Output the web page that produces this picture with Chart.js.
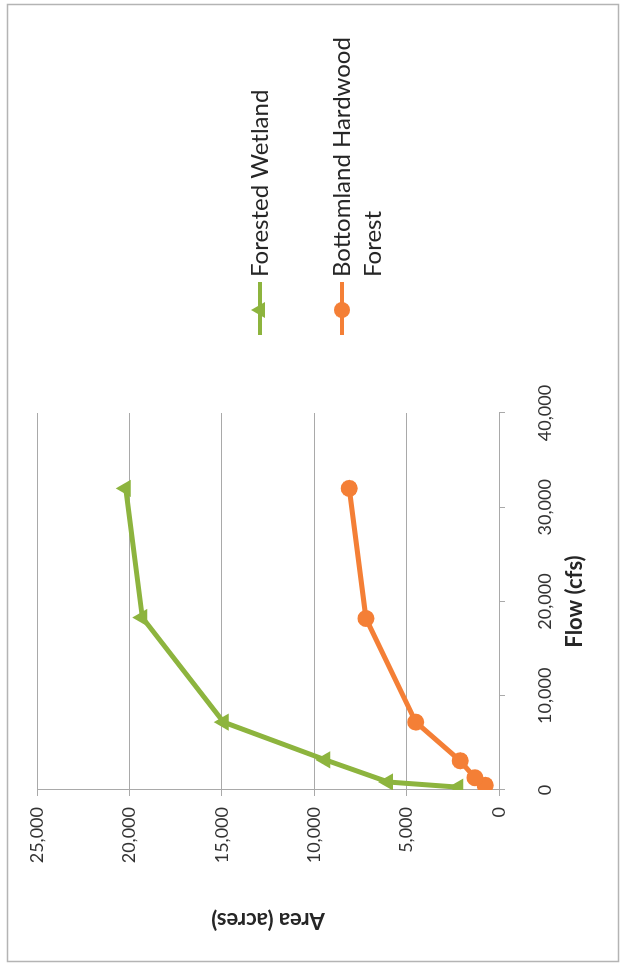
<!DOCTYPE html>
<html>
<head>
<meta charset="utf-8">
<script src="https://cdn.jsdelivr.net/npm/chart.js@4/dist/chart.umd.min.js"></script>
<style>
  html, body { margin: 0; padding: 0; background: #fff; overflow: hidden; }
  /* the chart is drawn landscape and turned a quarter turn to the left */
  #wrap {
    position: absolute;
    left: 0;
    top: 966px;
    width: 966px;
    height: 621px;
    transform-origin: 0 0;
    transform: rotate(-90deg);
  }
</style>
</head>
<body>
<div id="wrap"><canvas id="flow-area" width="966" height="621"></canvas></div>
<script>
  'use strict';

  const seriesNames = ['Forested Wetland', 'Bottomland Hardwood Forest'];
  const legendLines = [['Forested Wetland'], ['Bottomland Hardwood', 'Forest']];

  const wetlandFlow = [300, 850, 3200, 7200, 18300, 32000];
  const wetlandArea = [2200, 6000, 9400, 14900, 19300, 20200];

  const hardwoodFlow = [500, 1300, 3100, 7200, 18200, 32000];
  const hardwoodArea = [750, 1300, 2100, 4500, 7200, 8100];

  const flowTicks = [0, 10000, 20000, 30000, 40000];
  const areaTicks = [0, 5000, 10000, 15000, 20000, 25000];

  const green = '#8db43e';
  const orange = '#f47f36';
  const gridGrey = '#a9a9a9';

  function toPoints(xs, ys) {
    return xs.map((x, i) => ({x: x, y: ys[i]}));
  }

  // white page with thin grey frame
  const framePlugin = {
    id: 'frame',
    beforeDraw: function(chart) {
      let ctx = chart.ctx;
      ctx.save();
      ctx.fillStyle = '#fff';
      ctx.fillRect(0, 0, chart.width, chart.height);
      ctx.strokeStyle = '#b4b4b4';
      ctx.lineWidth = 1.5;
      ctx.strokeRect(4.5, 7.5, 957, 611);
      ctx.restore();
    },
  };

  // excel style legend: short line with the marker on it, wrapped text
  const legendPlugin = {
    id: 'sideLegend',
    afterDraw: function(chart) {
      let ctx = chart.ctx;
      let rows = [260, 342];
      ctx.save();
      chart.data.datasets.forEach((ds, i) => {
        let y = rows[i];
        ctx.strokeStyle = ds.borderColor;
        ctx.lineWidth = 4;
        ctx.beginPath();
        ctx.moveTo(631, y);
        ctx.lineTo(684, y);
        ctx.stroke();

        ctx.fillStyle = ds.backgroundColor;
        ctx.beginPath();
        if (ds.pointStyle === 'triangle') {
          ctx.moveTo(656, y - 9);
          ctx.lineTo(664, y + 5);
          ctx.lineTo(648, y + 5);
          ctx.closePath();
        }
        else {
          ctx.arc(656, y, 8, 0, Math.PI * 2);
        }
        ctx.fill();

        ctx.fillStyle = '#262626';
        ctx.font = '24px Lato';
        ctx.textBaseline = 'middle';
        ctx.textAlign = 'left';
        legendLines[i].forEach((line, j) => {
          ctx.fillText(line, 689, y + j * 31);
        });
      });
      ctx.restore();
    },
  };

  const config = {
    type: 'scatter',
    data: {
      datasets: [
        {
          label: seriesNames[0],
          data: toPoints(wetlandFlow, wetlandArea),
          showLine: true,
          borderColor: green,
          backgroundColor: green,
          borderWidth: 5,
          pointStyle: 'triangle',
          pointRadius: 10,
          pointBorderWidth: 0,
        },
        {
          label: seriesNames[1],
          data: toPoints(hardwoodFlow, hardwoodArea),
          showLine: true,
          borderColor: orange,
          backgroundColor: orange,
          borderWidth: 5,
          pointStyle: 'circle',
          pointRadius: 8.5,
          pointBorderWidth: 0,
        },
      ],
    },
    options: {
      responsive: false,
      animation: false,
      layout: {
        padding: {left: 28, top: 37, right: 413, bottom: 28},
      },
      plugins: {
        legend: {display: false},
        tooltip: {enabled: false},
      },
      scales: {
        x: {
          type: 'linear',
          min: flowTicks[0],
          max: flowTicks[flowTicks.length - 1],
          afterBuildTicks: (scale) => {
            scale.ticks = flowTicks.map((v) => ({value: v}));
          },
          afterFit: (scale) => {
            scale.height = 94;
          },
          grid: {
            drawOnChartArea: false,
            color: gridGrey,
            tickLength: 6,
          },
          border: {color: gridGrey},
          ticks: {
            color: '#333',
            font: {size: 18},
            padding: 29,
            maxRotation: 0,
          },
          title: {
            display: true,
            text: 'Flow (cfs)',
            color: '#262626',
            font: {size: 22, weight: 'bold'},
            padding: {top: 0, bottom: 5},
          },
        },
        y: {
          type: 'linear',
          min: areaTicks[0],
          max: areaTicks[areaTicks.length - 1],
          afterBuildTicks: (scale) => {
            scale.ticks = areaTicks.map((v) => ({value: v}));
          },
          afterFit: (scale) => {
            scale.width = 148;
          },
          grid: {
            color: gridGrey,
            tickLength: 6,
          },
          border: {color: gridGrey},
          ticks: {
            color: '#333',
            font: {size: 18},
            padding: 11,
          },
          title: {
            display: true,
            text: 'Area (acres)',
            color: '#262626',
            font: {size: 22, weight: 'bold'},
            padding: {top: 5, bottom: 0},
          },
        },
      },
    },
    plugins: [framePlugin, legendPlugin],
  };

  Chart.defaults.font.family = 'Lato';
  let flowAreaChart = new Chart(document.getElementById('flow-area'), config);
</script>
</body>
</html>
